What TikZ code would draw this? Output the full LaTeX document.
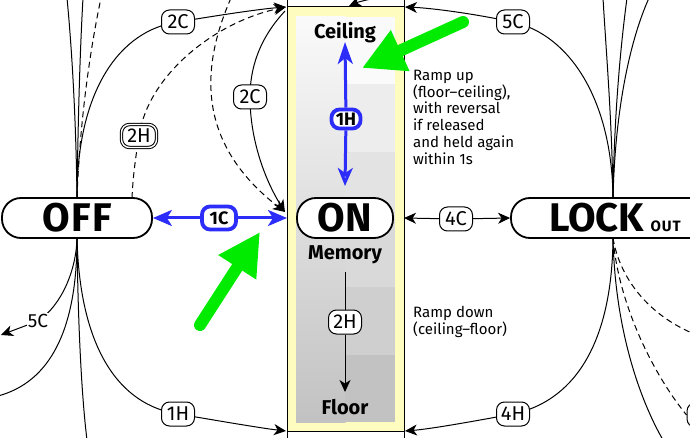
\documentclass[tikz,border=0pt]{standalone}
\usepackage{fontspec}
\setmainfont{Fira Sans}
\usetikzlibrary{arrows.meta}
\definecolor{blu}{RGB}{45,45,250}
\definecolor{grn}{RGB}{0,235,0}
\definecolor{ylw}{RGB}{255,252,192}
\pgfdeclarelayer{bgbg}
\pgfdeclarelayer{bg}
\pgfsetlayers{bgbg,bg,main}
\tikzset{
  lbl/.style={draw, fill=white, rounded corners=8pt, inner sep=1pt, minimum width=33pt, minimum height=24pt, font=\fontsize{20}{20}\selectfont, line width=1pt},
  blbl/.style={draw=blu, line width=3.8pt, fill=white, rounded corners=8pt, inner sep=0pt, font=\fontsize{18}{18}\selectfont\bfseries},
  pill/.style={draw, line width=1.8pt, fill=white, rounded corners=19pt, minimum height=40pt, inner sep=0pt},
  con/.style={line width=1pt},
  arr/.style={-{Stealth[length=12pt,width=11pt,inset=3.5pt]}},
  btip/.style={-{Stealth[length=19pt,width=16pt,inset=5pt]}},
  bl/.style={blu, line width=3pt},
  dsh/.style={dash pattern=on 6pt off 4pt},
  mid/.style={font=\fontsize{20}{20}\selectfont\bfseries},
  note/.style={anchor=north west, align=left, inner sep=0pt, font=\fontsize{15}{16.7}\selectfont},
  garrow/.style={grn, line width=12pt, line cap=round, -{Triangle[length=42pt,width=42pt]}},
}
\begin{document}
\begin{tikzpicture}[x=1pt,y=-1pt]
\useasboundingbox (0,0) rectangle (690,438);
\clip (0,0) rectangle (690,438);

% ---------- main nodes ----------
\node[pill, minimum width=150pt] (off) at (77,218) {\fontsize{40}{40}\selectfont\bfseries\addfontfeature{LetterSpace=3}OFF};
\node[pill, minimum width=96pt] (on) at (345,218) {\fontsize{40}{40}\selectfont\bfseries ON};
\node[pill, minimum width=208pt] (lock) at (615,218) {\fontsize{40}{40}\selectfont\bfseries LOCK\,{\fontsize{15}{15}\selectfont\addfontfeature{LetterSpace=6}OUT}};

\node[mid] (ceil) at (345,33) {Ceiling};
\node[mid] (mem) at (345,255) {Memory};
\node[mid] (floor) at (345,407) {Floor};

\node[note] (t1) at (413,70) {Ramp up\\(floor–ceiling),\\with reversal\\if released\\and held again\\within 1s};
\node[note] (t2) at (413,306) {Ramp down\\(ceiling–floor)};

% ---------- labels ----------
\node[lbl] (l2ca) at (178,22) {2C};
\node[lbl] (l2cb) at (250,97) {2C};
\node[lbl, double, double distance=1.4pt, minimum width=35pt, minimum height=23pt] (l2h) at (139,136) {2H};
\node[blbl, minimum width=34pt, minimum height=23pt] (l1c) at (219,218) {1C};
\node[blbl, minimum width=29pt, minimum height=19pt] (l1hb) at (346,119) {1H};
\node[lbl] (l2hb) at (345,322) {2H};
\node[lbl] (l4c) at (456,219) {4C};
\node[lbl] (l5cr) at (513,22) {5C};
\node[lbl] (l1h) at (178,414) {1H};
\node[lbl] (l4h) at (513,414) {4H};
\node[fill=white, inner sep=1pt, font=\fontsize{19}{19}\selectfont] (l5c) at (38,321) {5C};
\node[lbl, minimum width=34pt] (lx) at (704,415) {};

% ---------- coordinates ----------
\coordinate (tl) at (286,7);
\coordinate (tl2) at (285,11);
\coordinate (tr) at (405,7);
\coordinate (bl) at (286,431);
\coordinate (br) at (405,431);
\coordinate (bxW) at (287,218);
\coordinate (bxE) at (404,218);
\coordinate (onL) at (285,212);
\coordinate (offr) at (132,198);
\coordinate (lkN) at (613,198);
\coordinate (lkS) at (613,238);
\coordinate (u1) at (345,42);
\coordinate (u2) at (345,186);
\coordinate (d1) at (345,272);
\coordinate (d2) at (345,392);
\coordinate (a1) at (67,-2);
\coordinate (a2) at (83,-2);
\coordinate (a3) at (101,-2);
\coordinate (a4) at (231,-2);
\coordinate (a5) at (1,335);
\coordinate (a6) at (-2,396);
\coordinate (a7) at (87,440);
\coordinate (a8) at (385,-4);
\coordinate (tt) at (349,6);
\coordinate (b1) at (603,-2);
\coordinate (b2) at (627,-2);
\coordinate (b3) at (649,-2);
\coordinate (b4) at (663,440);
\coordinate (b5) at (692,333);
\coordinate (g1a) at (463,22);
\coordinate (g1b) at (362,68);
\coordinate (g2a) at (200,325);
\coordinate (g2b) at (260,232);

% ---------- box ----------
\begin{pgfonlayer}{bgbg}
\fill[ylw] (287,7) rectangle (404,431);
\shade[top color=black!2, bottom color=black!24] (296,17) rectangle (345.5,422);
\foreach \i/\c in {0/2,1/7,2/11,3/15,4/19,5/24}
  \fill[black!\c] (345,{17+\i*67.5}) rectangle (395,{17+(\i+1)*67.5});
\draw[line width=1pt] (287,0) -- (287,438) (404,0) -- (404,438) (287,7) -- (404,7) (287,431) -- (404,431);
\end{pgfonlayer}

% ---------- connectors ----------
\begin{pgfonlayer}{bg}
\draw[con] (off.north) .. controls (76,120) and (72,50) .. (a1);
\draw[con] (off.north) .. controls (78,120) and (80,50) .. (a2);
\draw[con,dsh] (off.north) .. controls (80,120) and (90,50) .. (a3);
\draw[con,arr] (off.north) .. controls (77,90) and (120,30) .. (l2ca.center) .. controls (220,15) and (260,9) .. (tl);
\draw[con,dsh,arr] (offr) .. controls (133,175) and (136,155) .. (l2h.center) .. controls (148,75) and (215,22) .. (tl);
\draw[con,dsh,arr] (a4) .. controls (195,80) and (205,150) .. (onL);
\draw[con,arr] (tl2) .. controls (258,40) and (250,70) .. (l2cb.center) .. controls (250,140) and (265,180) .. (onL);
\draw[con,arr] (a8) .. controls (370,-1) and (358,2) .. (tt);
\draw[bl, btip] (l1c) -- (off.east);
\draw[bl, btip] (l1c) -- (bxW);
\draw[con,arr] (l4c) -- (bxE);
\draw[con,arr] (l4c) -- (lock.west);
\draw[con,arr] (off.south) .. controls (76,270) and (62,305) .. (l5c.center) -- (a5);
\draw[con] (off.south) .. controls (77,330) and (50,382) .. (a6);
\draw[con] (off.south) .. controls (78,330) and (82,400) .. (a7);
\draw[con,arr] (off.south) .. controls (80,350) and (120,405) .. (l1h.center) .. controls (220,421) and (260,428) .. (bl);
\draw[con,arr] (lkN) .. controls (612,100) and (570,35) .. (l5cr.center) .. controls (470,13) and (430,8) .. (tr);
\draw[con] (lkN) .. controls (612,120) and (606,50) .. (b1);
\draw[con] (lkN) .. controls (614,120) and (620,50) .. (b2);
\draw[con] (lkN) .. controls (615,110) and (630,40) .. (b3);
\draw[con,arr] (lkS) .. controls (612,350) and (570,402) .. (l4h.center) .. controls (470,422) and (430,429) .. (br);
\draw[con] (lkS) .. controls (615,330) and (640,400) .. (b4);
\draw[con,dsh] (lkS) .. controls (620,280) and (650,315) .. (b5);
\draw[con,dsh] (lkS) .. controls (618,300) and (650,370) .. (lx.west);
\draw[bl, -{Stealth[length=22pt,width=15pt,inset=6pt]}] (l1hb) -- (u1);
\draw[bl, -{Stealth[open,length=18pt,width=15pt,inset=5pt,fill=white]}] (l1hb) -- (u2);
\draw[con,arr] (d1) -- (l2hb) -- (d2);
\end{pgfonlayer}

\draw[garrow] (g1a) -- (g1b);
\draw[garrow] (g2a) -- (g2b);
\end{tikzpicture}
\end{document}
